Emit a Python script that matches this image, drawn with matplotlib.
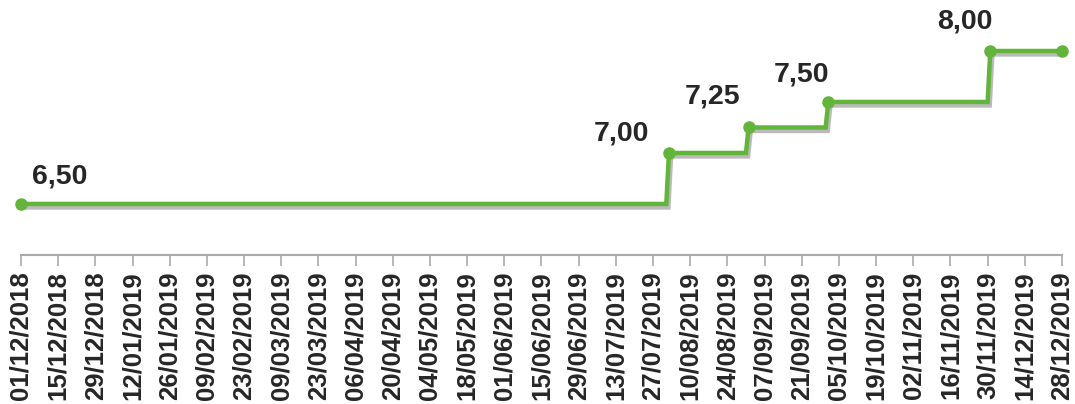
import matplotlib.pyplot as plt
import matplotlib.dates as mdates
import matplotlib.patheffects as pe
import pandas as pd

# Taxa ao longo do período (pontos antes/depois de cada mudança)
datas = ['2018-12-01', '2019-08-01', '2019-08-02', '2019-08-31', '2019-09-01',
         '2019-09-30', '2019-10-01', '2019-11-30', '2019-12-01', '2019-12-28']
taxas = [6.50, 6.50, 7.00, 7.00, 7.25, 7.25, 7.50, 7.50, 8.00, 8.00]

# Pontos marcados e rótulos
marcados = [0, 2, 4, 6, 8, 9]
rotulos = ['6,50', '7,00', '7,25', '7,50', '8,00', '']

inicio = '2018-12-01'
fim = '2019-12-28'

plt.rcParams['font.family'] = ['Liberation Sans', 'DejaVu Sans']

x = pd.to_datetime(datas)
verde = '#62b43a'

fig = plt.figure(figsize=(10.75, 4.04), dpi=100)
ax = fig.add_axes([0.0195, 0.369, 0.9684, 0.631])

# linha com sombra
ax.plot(x, taxas, color=verde, lw=3.2, clip_on=False, zorder=3,
        solid_joinstyle='miter',
        path_effects=[pe.SimpleLineShadow(offset=(1.5, -2.5), shadow_color='#777777', alpha=0.5),
                      pe.Normal()])
# marcadores sem sombra
ax.plot(x[marcados], [taxas[i] for i in marcados], 'o', color=verde,
        markersize=8, clip_on=False, zorder=4)

# deslocamento dos rótulos (pontos)
desloc = [(28, 20), (-34, 14), (-26, 22), (-19, 20), (-18, 21), (0, 0)]
for i, txt, d in zip(marcados, rotulos, desloc):
    if txt:
        ax.annotate(txt, (x[i], taxas[i]), xytext=d, textcoords='offset points',
                    ha='center', va='center', fontsize=20.5, fontweight='bold',
                    color='#262626')

ax.set_xlim(pd.Timestamp(inicio), pd.Timestamp(fim))
ax.set_ylim(6.0, 8.5)

ticks = pd.date_range(inicio, fim, freq='14D')
ax.set_xticks(ticks)
ax.xaxis.set_major_formatter(mdates.DateFormatter('%d/%m/%Y'))
ax.tick_params(axis='x', rotation=90, labelsize=18.5, length=8, width=1.2,
               color='#aaaaaa', pad=4, labelcolor='#262626')
for lab in ax.get_xticklabels():
    lab.set_fontweight('bold')

ax.set_yticks([])
for s in ['left', 'top', 'right']:
    ax.spines[s].set_visible(False)
ax.spines['bottom'].set_color('#aaaaaa')
ax.spines['bottom'].set_linewidth(1.5)

fig.savefig('out.png', dpi=100)
